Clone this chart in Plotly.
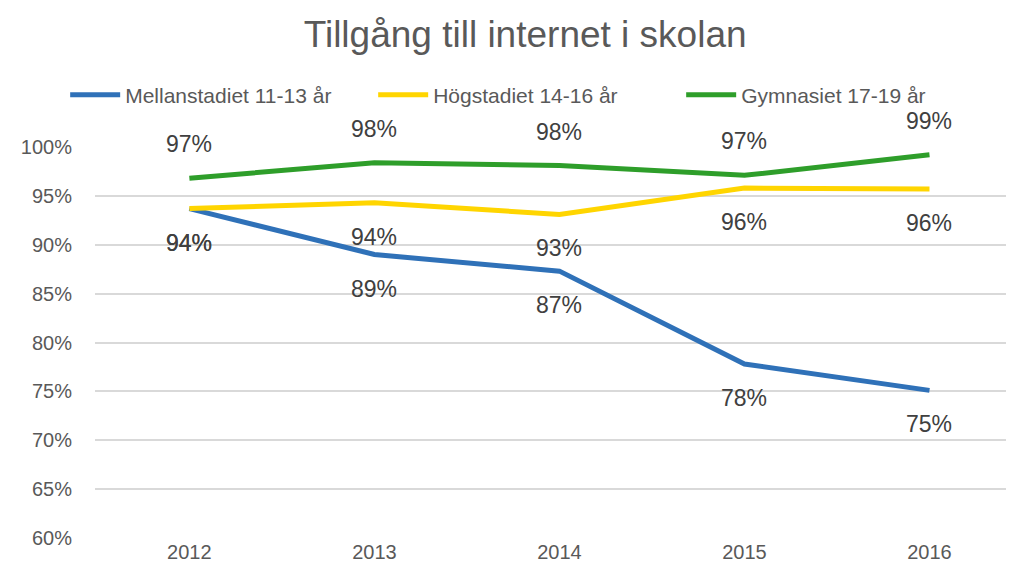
import plotly.graph_objects as go

years = ["2012", "2013", "2014", "2015", "2016"]
mellanstadiet = [93.7, 89.0, 87.3, 77.8, 75.1]
hogstadiet = [93.7, 94.3, 93.1, 95.8, 95.7]
gymnasiet = [96.8, 98.4, 98.1, 97.1, 99.2]

series = [
    ("Mellanstadiet 11-13 år", mellanstadiet, "#2F71B8", -34),
    ("Högstadiet 14-16 år", hogstadiet, "#FFD500", -34),
    ("Gymnasiet 17-19 år", gymnasiet, "#2E9E2A", 34),
]

FONT = "Liberation Sans, Arial, sans-serif"
GREY = "#595959"

fig = go.Figure()
annotations = []
for name, vals, color, shift in series:
    fig.add_trace(go.Scatter(
        x=list(range(len(years))), y=vals, name=name, mode="lines",
        line=dict(color=color, width=5),
    ))
    for i, v in enumerate(vals):
        annotations.append(dict(
            x=i, y=v, xref="x", yref="y", text=f"{round(v)}%",
            showarrow=False, yshift=shift,
            font=dict(family=FONT, size=23, color="#404040"),
        ))

fig.update_layout(
    width=1014, height=576,
    paper_bgcolor="white", plot_bgcolor="white",
    margin=dict(l=87, r=0, t=139, b=46, autoexpand=False),
    title=dict(text="Tillgång till internet i skolan", x=0.51, xanchor="center",
               y=0.955, yanchor="middle",
               font=dict(family=FONT, size=37, color=GREY)),
    legend=dict(orientation="h", xref="container", yref="container",
                x=0.512, xanchor="center", y=0.849, yanchor="middle",
                font=dict(family=FONT, size=21, color=GREY),
                entrywidth=243, entrywidthmode="pixels", itemwidth=50),
    showlegend=True,
    annotations=annotations,
    xaxis=dict(tickmode="array", tickvals=list(range(len(years))), ticktext=years,
               range=[-0.51, 4.50], showgrid=False, zeroline=False, showline=False,
               tickfont=dict(family=FONT, size=20, color=GREY), ticks=""),
    yaxis=dict(range=[60, 100], dtick=5, ticksuffix="%", showgrid=True,
               gridcolor="#D9D9D9", gridwidth=2, zeroline=False, showline=False,
               ticklabelstandoff=22,
               tickfont=dict(family=FONT, size=20, color=GREY), ticks=""),
)

fig.write_html("out.html")
